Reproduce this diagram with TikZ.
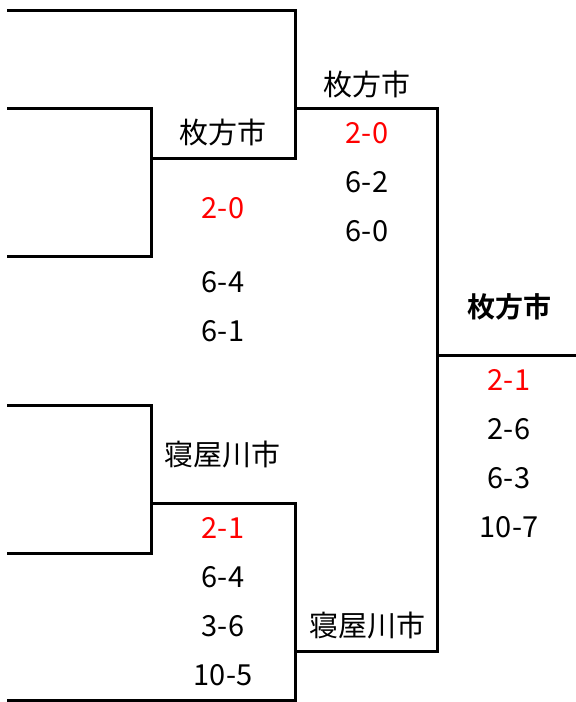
\documentclass[tikz,border=0pt]{standalone}
\usepackage{fontspec}
\setmainfont{Noto Sans CJK JP}[BoldFont={Noto Sans CJK JP Bold}]
\usetikzlibrary{positioning}

\begin{document}
\begin{tikzpicture}[x=1pt, y=-1pt, line width=3pt,
    node distance=49pt,
    score/.style={inner sep=0pt, font=\fontsize{29}{29}\selectfont},
    win/.style={score, text=red},
    team/.style={score}]
    \useasboundingbox (0,0) rectangle (576,702);
    % bracket
    \draw (7,10) -- (295,10) -- (295,158) -- (151,158);
    \draw (7,108) -- (151,108) -- (151,256) -- (7,256);
    \draw (295,108) -- (437,108) -- (437,651) -- (295,651);
    \draw (437,355) -- (576,355);
    \draw (7,405) -- (151,405) -- (151,553) -- (7,553);
    \draw (151,503) -- (295,503) -- (295,700) -- (7,700);

    \node [team] (hira1) at (223,132) {枚方市};
    \node [win]  (h1a) at (223,208) {2-0};
    \node [score] (h1b) at (223,282) {6-4};
    \node [score] [below of=h1b] (h1c) {6-1};

    \node [team] (neya1) at (222,455) {寝屋川市};
    \node [win]  (n1a) at (223,528) {2-1};
    \node [score] [below of=n1a] (n1b) {6-4};
    \node [score] [below of=n1b] (n1c) {3-6};
    \node [score] [below of=n1c] (n1d) {10-5};

    \node [team] (hira2) at (367,84) {枚方市};
    \node [win]  [below of=hira2] (h2a) {2-0};
    \node [score] [below of=h2a] (h2b) {6-2};
    \node [score] [below of=h2b] (h2c) {6-0};
    \node [team] (neya2) at (367,626) {寝屋川市};

    \node [team, font=\fontsize{28}{28}\selectfont\bfseries] (champ) at (509,307) {枚方市};
    \node [win]  (f1) at (509,380) {2-1};
    \node [score] [below of=f1] (f2) {2-6};
    \node [score] [below of=f2] (f3) {6-3};
    \node [score] [below of=f3] (f4) {10-7};
\end{tikzpicture}
\end{document}
